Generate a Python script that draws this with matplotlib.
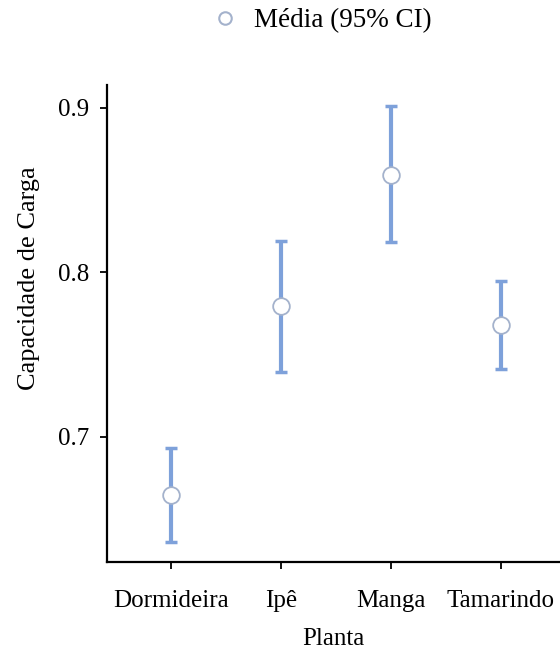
import numpy as np
import matplotlib.pyplot as plt
from matplotlib.lines import Line2D

plantas = ["Dormideira", "Ipê", "Manga", "Tamarindo"]
media = [0.6647, 0.7793, 0.8593, 0.7678]
ic_inf = [0.6362, 0.7392, 0.8182, 0.7410]
ic_sup = [0.6933, 0.8188, 0.9012, 0.7945]


def main():
    plt.rcParams['font.family'] = ['Liberation Serif', 'DejaVu Serif']
    fig = plt.figure(figsize=(5.6, 6.52), dpi=100)
    ax = fig.add_axes([0.191, 0.138, 0.809, 0.732])

    x = np.arange(len(plantas))
    med = np.array(media)
    err = [med - np.array(ic_inf), np.array(ic_sup) - med]

    cor = '#7ea1da'
    ax.errorbar(x, med, yerr=err, fmt='none', ecolor=cor, elinewidth=3,
                capsize=4, capthick=2.5, zorder=2)
    ax.plot(x, med, 'o', ms=12, mfc='white', mec='#a4b2cc', mew=1.3, zorder=3)

    ax.set_xlim(-0.58, 3.54)
    ax.set_ylim(0.624, 0.914)
    ax.set_yticks([0.7, 0.8, 0.9])
    ax.set_yticklabels(['0.7', '0.8', '0.9'])
    ax.set_xticks(x)
    ax.set_xticklabels(plantas)

    for s in ['top', 'right']:
        ax.spines[s].set_visible(False)
    for s in ['left', 'bottom']:
        ax.spines[s].set_linewidth(1.6)
    ax.tick_params(axis='both', length=5, width=1.3, labelsize=18)
    ax.tick_params(axis='y', pad=8)
    ax.tick_params(axis='x', pad=15)

    ax.set_xlabel('Planta', fontsize=18, labelpad=12)
    ax.set_ylabel('Capacidade de Carga', fontsize=19)
    ax.yaxis.set_label_coords(-0.148, 0.595)

    leg_handle = Line2D([], [], ls='none', marker='o', ms=9, mfc='white',
                        mec='#a4b2cc', mew=1.5)
    fig.legend([leg_handle], ['Média (95% CI)'], loc='center',
               bbox_to_anchor=(0.572, 0.968), frameon=False, fontsize=19.5,
               handletextpad=0.45, handlelength=1.2)

    plt.savefig('out.png', dpi=100)


if __name__ == "__main__":
    main()
